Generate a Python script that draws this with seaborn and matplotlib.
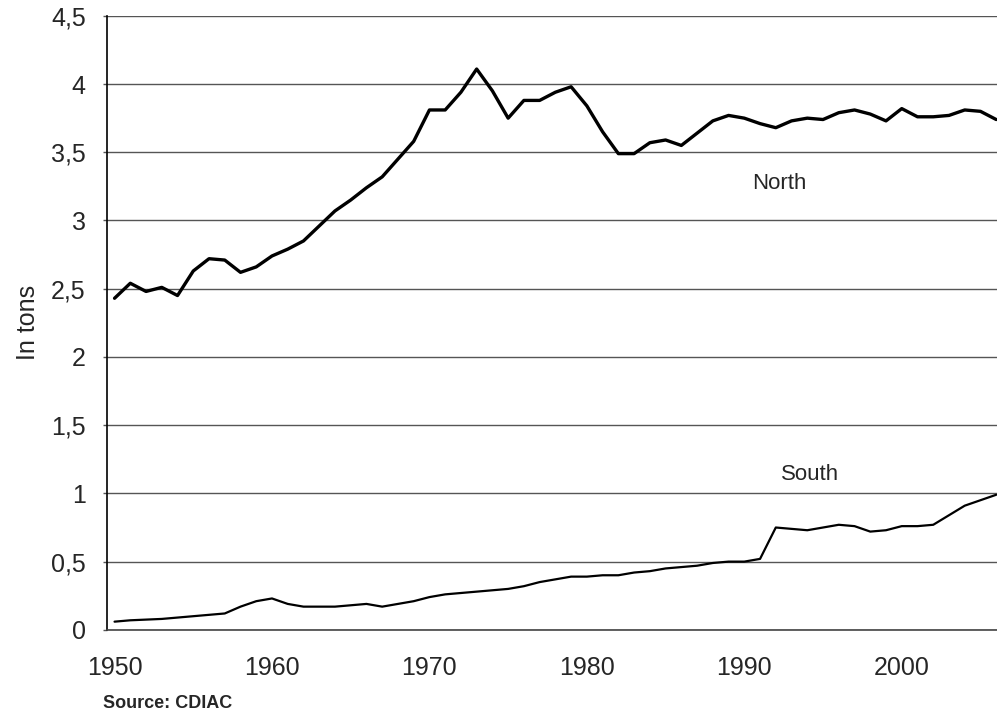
import pandas as pd
import matplotlib
matplotlib.use("Agg")
import matplotlib.pyplot as plt
import seaborn as sns

# --- data ---
years = list(range(1950, 2007))
north = [2.43, 2.54, 2.48, 2.51, 2.45, 2.63, 2.72, 2.71, 2.62, 2.66,
         2.74, 2.79, 2.85, 2.96, 3.07, 3.15, 3.24, 3.32, 3.45, 3.58,
         3.81, 3.81, 3.94, 4.11, 3.95, 3.75, 3.88, 3.88, 3.94, 3.98,
         3.84, 3.65, 3.49, 3.49, 3.57, 3.59, 3.55, 3.64, 3.73, 3.77,
         3.75, 3.71, 3.68, 3.73, 3.75, 3.74, 3.79, 3.81, 3.78, 3.73,
         3.82, 3.76, 3.76, 3.77, 3.81, 3.80, 3.74]
south = [0.06, 0.07, 0.075, 0.08, 0.09, 0.10, 0.11, 0.12, 0.17, 0.21,
         0.23, 0.19, 0.17, 0.17, 0.17, 0.18, 0.19, 0.17, 0.19, 0.21,
         0.24, 0.26, 0.27, 0.28, 0.29, 0.30, 0.32, 0.35, 0.37, 0.39,
         0.39, 0.40, 0.40, 0.42, 0.43, 0.45, 0.46, 0.47, 0.49, 0.50,
         0.50, 0.52, 0.75, 0.74, 0.73, 0.75, 0.77, 0.76, 0.72, 0.73,
         0.76, 0.76, 0.77, 0.84, 0.91, 0.95, 0.99]
x_ticks = [1950, 1960, 1970, 1980, 1990, 2000]
y_ticks = [0, 0.5, 1, 1.5, 2, 2.5, 3, 3.5, 4, 4.5]
y_labels = ["0", "0,5", "1", "1,5", "2", "2,5", "3", "3,5", "4", "4,5"]

df = pd.DataFrame({"year": years, "North": north, "South": south})

# --- plot ---
sns.set_style("white")
plt.rcParams["font.family"] = ["Liberation Sans", "DejaVu Sans"]

fig = plt.figure(figsize=(9.97, 7.19), dpi=100)
ax = fig.add_axes([0.107, 0.124, 0.893, 0.854])

sns.lineplot(data=df, x="year", y="North", color="black", linewidth=2.4, ax=ax)
sns.lineplot(data=df, x="year", y="South", color="black", linewidth=1.6, ax=ax)

ax.set_xlim(1949.5, 2006.05)
ax.set_ylim(0, 4.5)
ax.set_xticks(x_ticks)
ax.set_yticks(y_ticks)
ax.set_yticklabels(y_labels)
ax.yaxis.grid(True, color="#555555", linewidth=1.0)
ax.xaxis.grid(False)
ax.tick_params(axis="x", length=0, pad=19, labelsize=18)
ax.tick_params(axis="y", length=3, width=1, left=True, pad=12, labelsize=18, color="#555555")

for side in ["top", "right"]:
    ax.spines[side].set_visible(False)
ax.spines["left"].set_color("black")
ax.spines["left"].set_linewidth(1.2)
ax.spines["bottom"].set_color("#444444")
ax.spines["bottom"].set_linewidth(1.2)

ax.set_xlabel("")
ax.set_ylabel("In tons", fontsize=18, labelpad=8)

ax.text(1992.2, 3.27, "North", fontsize=16, ha="center", va="center")
ax.text(1994.15, 1.14, "South", fontsize=16, ha="center", va="center")
fig.text(0.103, 0.022, "Source: CDIAC", fontsize=13, fontweight="bold", ha="left", va="center")

fig.savefig("out.png", dpi=100)
